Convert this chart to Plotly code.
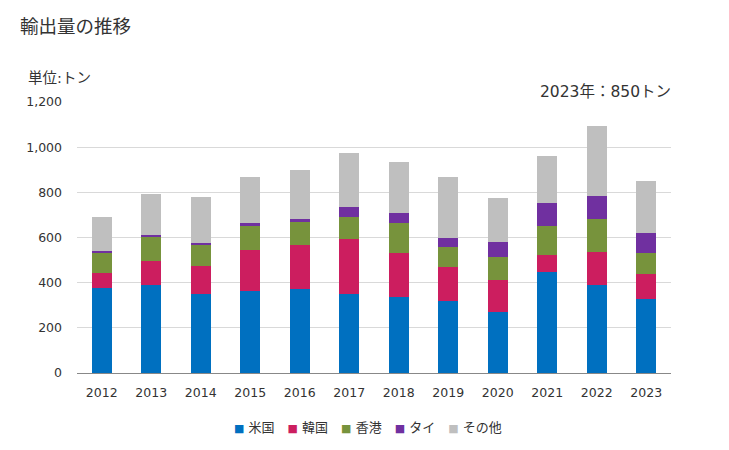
import plotly.graph_objects as go

years = ["2012", "2013", "2014", "2015", "2016", "2017", "2018", "2019", "2020", "2021", "2022", "2023"]
us = [375, 389, 348, 363, 372, 348, 336, 318, 268, 446, 389, 327]
kr = [68, 107, 124, 180, 195, 246, 194, 150, 142, 77, 146, 110]
hk = [91, 110, 98, 107, 101, 96, 134, 89, 102, 127, 146, 93]
th = [5, 4, 6, 13, 15, 45, 44, 40, 67, 102, 102, 89]
other = [151, 182, 203, 205, 216, 240, 227, 271, 196, 209, 312, 231]

names = ["米国", "韓国", "香港", "タイ", "その他"]
colors = ["#0070c0", "#cc1e5f", "#77933c", "#7030a0", "#bfbfbf"]
series = [us, kr, hk, th, other]

FONT = "DejaVu Sans, Noto Sans CJK JP"
TXT = "#333333"

ML, MR, MT, MB = 77, 58, 102, 77
W, H = 729, 450
PW, PH = W - ML - MR, H - MT - MB


def px(x):
    return (x - ML) / PW


def py(y):
    return (H - MB - y) / PH


fig = go.Figure()
for name, color, vals in zip(names, colors, series):
    fig.add_trace(go.Bar(x=years, y=vals, name=name, marker_color=color,
                         marker_line_width=0))

# legend built as text (compact square + label, like the reference)
sep = "\u3000"
legend_text = sep.join(
    f"<span style='color:{c};font-size:11px'>■</span>\u00a0{n}"
    for n, c in zip(names, colors)
)

fig.update_layout(
    barmode="stack",
    bargap=0.6,
    width=W, height=H,
    margin=dict(l=ML, r=MR, t=MT, b=MB),
    plot_bgcolor="white", paper_bgcolor="white",
    font=dict(family=FONT, size=13, color=TXT),
    showlegend=False,
    xaxis=dict(showgrid=False, showline=True, linecolor="#888888", linewidth=1,
               ticks="", automargin=False, ticklabelstandoff=8,
               tickfont=dict(family=FONT, size=12.5, color=TXT)),
    yaxis=dict(range=[0, 1200], dtick=200, tickformat=",", showgrid=True,
               gridcolor="#d9d9d9", gridwidth=1, zeroline=False, showline=False,
               ticks="", ticklabelstandoff=14, automargin=False,
               tickfont=dict(family=FONT, size=12.5, color=TXT)),
    annotations=[
        dict(text="輸出量の推移", xref="paper", yref="paper",
             x=px(18), y=py(26), xanchor="left", yanchor="middle",
             showarrow=False, font=dict(family=FONT, size=18.5, color=TXT)),
        dict(text="単位:トン", xref="paper", yref="paper",
             x=px(26), y=py(78.5), xanchor="left", yanchor="middle",
             showarrow=False, font=dict(family=FONT, size=14.5, color=TXT)),
        dict(text="2023年：850トン", xref="paper", yref="paper",
             x=px(673), y=py(92), xanchor="right", yanchor="middle",
             showarrow=False, font=dict(family=FONT, size=15.5, color=TXT)),
        dict(text=legend_text, xref="paper", yref="paper",
             x=px(368), y=py(427), xanchor="center", yanchor="middle",
             showarrow=False, font=dict(family=FONT, size=13, color=TXT)),
    ],
)

fig.write_html("out.html", config={"displayModeBar": False},
               post_script="document.body.style.margin='0';document.body.style.padding='0';")
